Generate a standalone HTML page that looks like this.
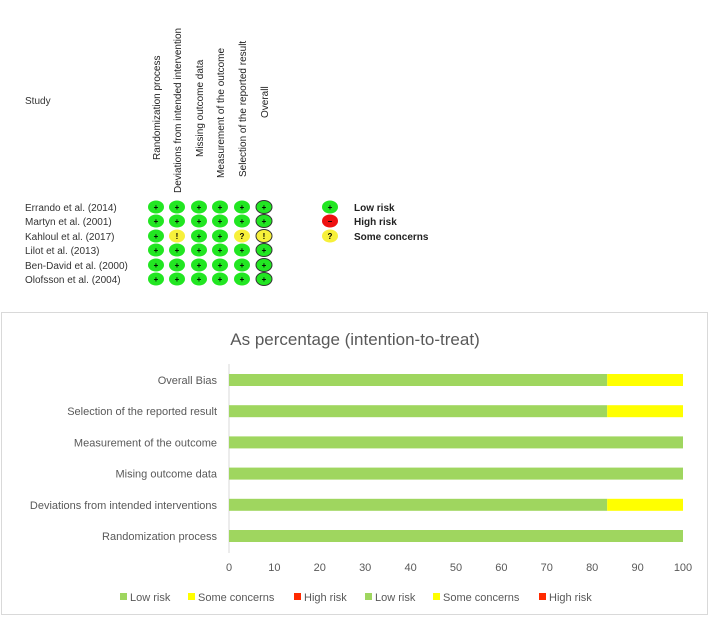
<!DOCTYPE html>
<html><head><meta charset="utf-8"><style>
body{margin:0;width:709px;height:618px;background:#fff;font-family:"Liberation Sans",sans-serif;overflow:hidden}
</style></head><body>
<svg width="709" height="618" font-family="Liberation Sans, sans-serif">
<g id="topg"></g>
<g>
<rect x="1.5" y="312.5" width="706" height="302" fill="#fff" stroke="#d9d9d9"/>
<text x="355" y="345" font-size="17" fill="#595959" text-anchor="middle">As percentage (intention-to-treat)</text>
<g id="bars"></g>
</g>
</svg>
<script>
const studies=["Errando et al. (2014)","Martyn et al. (2001)","Kahloul et al. (2017)","Lilot et al. (2013)","Ben-David et al. (2000)","Olofsson et al. (2004)"];
const domains=["Randomization process","Deviations from intended intervention","Missing outcome data","Measurement of the outcome","Selection of the reported result","Overall"];
const judgements=[["L","L","L","L","L","L"],["L","L","L","L","L","L"],["L","S!","L","L","S?","S!"],["L","L","L","L","L","L"],["L","L","L","L","L","L"],["L","L","L","L","L","L"]];
const categories=["Overall Bias","Selection of the reported result","Measurement of the outcome","Mising outcome data","Deviations from intended interventions","Randomization process"];
const lowRisk=[83.3,83.3,100,100,83.3,100];
const someConcerns=[16.7,16.7,0,0,16.7,0];
const highRisk=[0,0,0,0,0,0];
const xTicks=[0,10,20,30,40,50,60,70,80,90,100];
const NS="http://www.w3.org/2000/svg";
function mk(p,t,a,txt){const e=document.createElementNS(NS,t);for(const k in a)e.setAttribute(k,a[k]);if(txt!==undefined)e.textContent=txt;p.appendChild(e);return e;}
const topG=document.getElementById('topg');
let t=mk(topG,'text',{x:25,y:104,'font-size':10,fill:'#333'},'Study');


const colX=[156,177,199,220,242,264];const rowY=[207,221,236,250,265,279];
const hdrBottom=[160,193,157,178,177,118];
domains.forEach((d,i)=>{const e=mk(topG,'text',{transform:`translate(${colX[i]+4},${hdrBottom[i]}) rotate(-90)`,'font-size':10,fill:'#222'},d);

});
studies.forEach((s,r)=>{const e=mk(topG,'text',{x:25,y:rowY[r]+4,'font-size':10,fill:'#333'},s);


judgements[r].forEach((j,c)=>{const ov=c==5;
const el=mk(topG,'ellipse',{cx:colX[c],cy:rowY[r],rx:8,ry:6.5,fill:j[0]=='L'?'#22e622':'#f7f03a',stroke:ov?'#333':'none','stroke-width':1});


const g=mk(topG,'text',{x:colX[c],y:rowY[r]+3,'font-size':8,'font-weight':'bold','text-anchor':'middle',fill:'#000'},j[0]=='L'?'+':j[1]);

});});
[["#22e622","+","Low risk"],["#ee1111","–","High risk"],["#f7f03a","?","Some concerns"]].forEach((l,i)=>{
const y=rowY[i];const el=mk(topG,'ellipse',{cx:330,cy:y,rx:8,ry:6.5,fill:l[0]});


const s=mk(topG,'text',{x:330,y:y+3,'font-size':8,'font-weight':'bold','text-anchor':'middle'},l[1]);


const tx=mk(topG,'text',{x:354,y:y+4,'font-size':10,'font-weight':'bold',fill:'#222'},l[2]);

});
const B=document.getElementById('bars');
const x0=229,x1=683,yTop=380,step=31.2;
const X=v=>x0+(x1-x0)*v/100;const Y=i=>yTop+i*step;
const ax=mk(B,'line',{x1:x0,x2:x0,y1:364,y2:553,stroke:'#d9d9d9'});


categories.forEach((c,i)=>{
const l=mk(B,'text',{x:217,y:Y(i)+4,'font-size':11,fill:'#595959','text-anchor':'end'},c);


const a=mk(B,'rect',{x:X(0),y:Y(i)-6,width:X(lowRisk[i])-X(0),height:12,fill:'#9fd65f'});


const b=mk(B,'rect',{x:X(lowRisk[i]),y:Y(i)-6,width:X(lowRisk[i]+someConcerns[i])-X(lowRisk[i]),height:12,fill:'#ffff00'});


const h=mk(B,'rect',{x:X(lowRisk[i]+someConcerns[i]),y:Y(i)-6,width:X(lowRisk[i]+someConcerns[i]+highRisk[i])-X(lowRisk[i]+someConcerns[i]),height:12,fill:'#ff2a00'});

});
xTicks.forEach(v=>{const e=mk(B,'text',{x:X(v),y:571,'font-size':11,fill:'#595959','text-anchor':'middle'},v);

});
[["#9fd65f","Low risk",120],["#ffff00","Some concerns",188],["#ff2a00","High risk",294],["#9fd65f","Low risk",365],["#ffff00","Some concerns",433],["#ff2a00","High risk",539]].forEach(l=>{
const r=mk(B,'rect',{x:l[2],y:593,width:7,height:7,fill:l[0]});


const tx=mk(B,'text',{x:l[2]+10,y:601,'font-size':11,fill:'#595959'},l[1]);

});
</script>
</body></html>
